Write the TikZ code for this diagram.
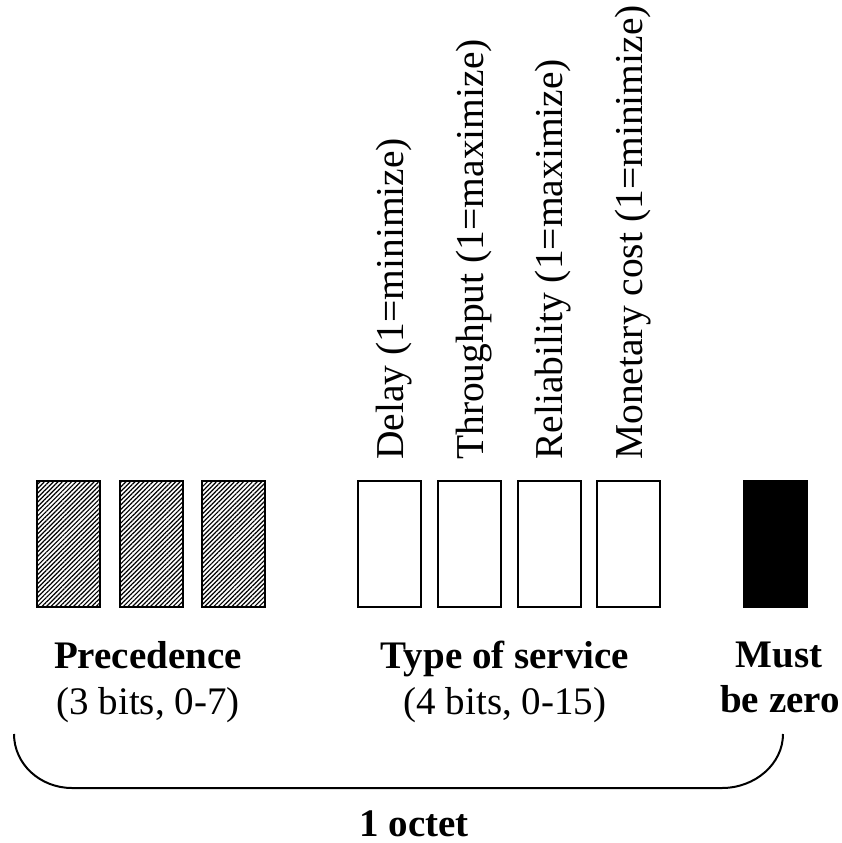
\documentclass[tikz,border=0pt]{standalone}
\usepackage{fontspec}
\setmainfont{Liberation Serif}
\usetikzlibrary{patterns.meta}
\begin{document}
\begin{tikzpicture}[x=1pt,y=-1pt,
  bitbox/.style={draw=black,line width=2pt,minimum width=63pt,minimum height=126pt,inner sep=0pt,anchor=north west},
  hatched/.style={bitbox,pattern={Lines[angle=45,distance=3.2pt,line width=1.2pt]}},
  plainbit/.style={bitbox,fill=white},
  zerobit/.style={bitbox,fill=black},
  vlabel/.style={rotate=90,anchor=base west,inner sep=0pt,font=\fontsize{39.5}{45}\selectfont},
  title/.style={anchor=base,inner sep=0pt,font=\fontsize{39}{45}\selectfont\bfseries},
  sub/.style={anchor=base,inner sep=0pt,font=\fontsize{39}{45}\selectfont},
  brace/.style={line width=2pt}]
\useasboundingbox (0,0) rectangle (842,843);

% precedence bits
\node[hatched] (p1) at (36,480) {};
\node[hatched] (p2) at (119,480) {};
\node[hatched] (p3) at (201,480) {};

% type-of-service bits
\node[plainbit] (t1) at (357,480) {};
\node[plainbit] (t2) at (437,480) {};
\node[plainbit] (t3) at (517,480) {};
\node[plainbit] (t4) at (596,480) {};

% reserved bit
\node[zerobit] (z) at (743,480) {};

% meaning of each TOS bit
\node[vlabel] (l1) at ([xshift=14pt]t1.center |- 0,460) {Delay (1=minimize)};
\node[vlabel] (l2) at ([xshift=14pt]t2.center |- 0,460) {Throughput (1=maximize)};
\node[vlabel] (l3) at ([xshift=13pt]t3.center |- 0,460) {Reliability (1=maximize)};
\node[vlabel] (l4) at ([xshift=14pt]t4.center |- 0,460) {Monetary cost (1=minimize)};

% field captions
\node[title] (prec) at (148,668) {Precedence};
\node[sub] (precb) at (148,714) {(3 bits, 0-7)};
\node[title] (tos) at (505,668) {Type of service};
\node[sub] (tosb) at (505,714) {(4 bits, 0-15)};
\node[title] (must) at (779,667) {Must};
\node[title] (zero) at (780,712) {be zero};

% brace spanning the whole octet
\coordinate (bl) at (14,734);
\coordinate (blc) at (72,788);
\coordinate (brc) at (722,788);
\coordinate (br) at (783,734);
\draw[brace] (bl) .. controls (14,764) and (40,788) .. (blc) -- (brc)
  .. controls (755,788) and (783,764) .. (br);
\node[title] (octet) at (414,836) {1 octet};
\end{tikzpicture}
\end{document}
